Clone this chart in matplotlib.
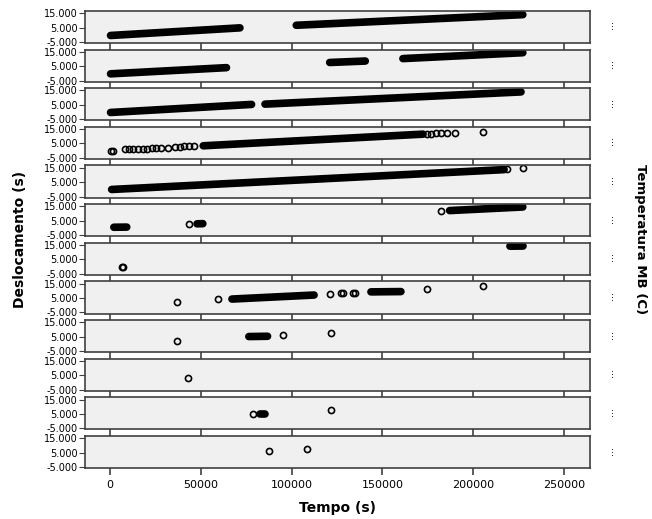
import matplotlib
matplotlib.use("Agg")
import matplotlib.pyplot as plt
from matplotlib.ticker import FuncFormatter

# dense runs of overlapping circles: panel, start (t, y), end (t, y)
run_panel = [0, 0, 1, 1, 1, 2, 2, 3, 4, 5, 5, 5, 6, 7, 7, 8, 10]
run_t0 = [400, 102600, 400, 121000, 161300, 400, 85400, 51400, 1000, 2200, 48000, 187000, 220200, 67200, 143700, 76500, 82600]
run_y0 = [-500, 6600, -300, 7600, 10300, -300, 5500, 3400, -100, 500, 2900, 12100, 14200, 4300, 9300, 5100, 5300]
run_t1 = [71600, 227300, 64200, 140600, 227300, 78000, 226300, 172400, 217000, 9300, 51200, 227300, 227400, 112400, 160200, 86800, 85300]
run_y1 = [4800, 14000, 4000, 8600, 14400, 5300, 14000, 11500, 13700, 600, 3000, 14600, 14300, 7100, 9500, 5300, 5300]

# single circles: panel, t, y
pt_panel = [3] * 24 + [4, 4] + [5, 5] + [6, 6] + [7] * 9 + [8] * 3 + [9] + [10, 10] + [11, 11]
pt_t = [400, 1500, 8500, 10500, 13000, 15500, 18000, 20500, 23000, 25500, 28000, 32100,
        36000, 38500, 41000, 43500, 46500, 174400, 177000, 179500, 182000, 185400, 190000, 205200,
        218400, 227300,
        43700, 182100,
        6500, 7200,
        36700, 59700, 121100, 127000, 128300, 133800, 135000, 174400, 205200,
        36700, 95400, 121500,
        42800,
        78900, 121500,
        87700, 108300]
pt_y = [-100, -100, 1000, 1100, 1200, 1300, 1400, 1500, 1600, 1700, 1800, 2000,
        2800, 2900, 3000, 3100, 3200, 11700, 11800, 12000, 12100, 12200, 12300, 13300,
        13800, 14500,
        2700, 12000,
        -100, -100,
        2400, 4000, 7600, 8200, 8200, 8600, 8700, 11200, 13300,
        2000, 5900, 7500,
        2900,
        5300, 7600,
        6000, 7400]

n_panels = 12
y_ticks = [-5000, 5000, 15000]
x_ticks = [0, 50000, 100000, 150000, 200000, 250000]

fig, axes = plt.subplots(n_panels, 1, sharex=True, figsize=(6.52, 5.19), dpi=100,
                         gridspec_kw=dict(hspace=0.2))
fig.subplots_adjust(left=0.130, right=0.905, top=0.979, bottom=0.098)

fmt = FuncFormatter(lambda v, p: f"{v:,.0f}".replace(",", "."))
edge = "#404040"

for i, ax in enumerate(axes):
    ax.set_facecolor("#f0f0f0")
    for s in ax.spines.values():
        s.set_color(edge)
        s.set_linewidth(1.2)
    for k in range(len(run_panel)):
        if run_panel[k] == i:
            ax.plot([run_t0[k], run_t1[k]], [run_y0[k], run_y1[k]], color="black",
                    lw=5.5, solid_capstyle="round")
    ts = [pt_t[k] for k in range(len(pt_panel)) if pt_panel[k] == i]
    ys = [pt_y[k] for k in range(len(pt_panel)) if pt_panel[k] == i]
    ax.plot(ts, ys, "o", ms=4.4, mfc="none", mec="black", mew=1.2)
    ax.set_ylim(-5800, 16600)
    ax.set_yticks(y_ticks)
    ax.yaxis.set_major_formatter(fmt)
    ax.tick_params(axis="y", labelsize=7, length=4, color=edge, pad=1)
    ax.tick_params(axis="x", labelsize=8, length=5, color=edge, width=1.2)
    ax.text(1.045, 0.5, "...", transform=ax.transAxes, rotation=270,
            ha="center", va="center", fontsize=7)

axes[-1].set_xlim(-13800, 264300)
axes[-1].set_xticks(x_ticks)
axes[-1].xaxis.set_major_formatter(FuncFormatter(lambda v, p: f"{v:.0f}"))

fig.text(0.518, 0.022, "Tempo (s)", ha="center", va="center", fontsize=10, fontweight="bold")
fig.text(0.030, 0.539, "Deslocamento (s)", ha="center", va="center", rotation=90,
         fontsize=10, fontweight="bold")
fig.text(0.983, 0.539, "Temperatura MB (C)", ha="center", va="center", rotation=270,
         fontsize=9.5, fontweight="bold")

fig.savefig("out.png", dpi=100)
